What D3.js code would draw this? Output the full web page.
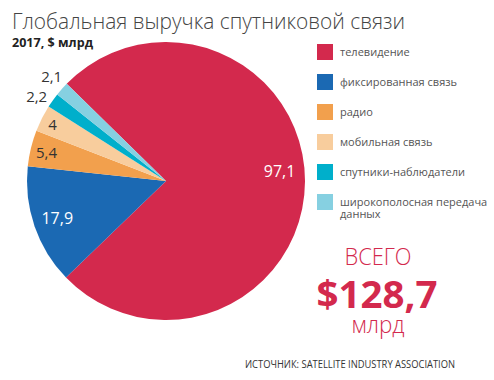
<!DOCTYPE html>
<html><head><meta charset="utf-8">
<script src="https://cdn.jsdelivr.net/npm/d3@7"></script>
<style>body{margin:0;background:#fff}svg{display:block}</style>
</head><body>
<script>
const categories = ["телевидение","фиксированная связь","радио","мобильная связь","спутники-наблюдатели","широкополосная передача данных"];
const values = [97.1, 17.9, 5.4, 4, 2.2, 2.1];
const valueLabels = ["97,1","17,9","5,4","4","2,2","2,1"];
const colors = ["#d3294d","#1b69b3","#f2a04d","#f8cd9d","#00afcb","#86d0e1"];

const W = 494, H = 380;
const svg = d3.select("body").append("svg").attr("width", W).attr("height", H);
const font = "'Open Sans', 'Noto Sans', sans-serif";

// Title
svg.append("text").attr("x", 12).attr("y", 29).text("Глобальная выручка спутниковой связи")
  .attr("font-family", font).attr("font-weight", 300).attr("font-size", 22).attr("fill", "#444")
  .attr("textLength", 393).attr("lengthAdjust", "spacingAndGlyphs");
svg.append("text").attr("x", 12).attr("y", 47).text("2017, $ млрд")
  .attr("font-family", font).attr("font-weight", 700).attr("font-size", 13).attr("fill", "#222")
  .attr("textLength", 81).attr("lengthAdjust", "spacingAndGlyphs");

// Pie
const cx = 166, cy = 181, R = 139;
const start = -45.6 * Math.PI / 180;
const pie = d3.pie().sort(null).startAngle(start).endAngle(start + 2 * Math.PI);
const arcs = pie(values);
const arc = d3.arc().innerRadius(0).outerRadius(R);
const g = svg.append("g").attr("transform", `translate(${cx},${cy})`);
g.selectAll("path").data(arcs).enter().append("path")
  .attr("d", arc).attr("fill", (d, i) => colors[i]);

// Labels
const labelRadius = [114, 115, 123, 127, 155, 155];
const labelShift = [-5 * Math.PI / 180, 0, 0, 0, -2 * Math.PI / 180, 1 * Math.PI / 180];
arcs.forEach((d, i) => {
  const a = (d.startAngle + d.endAngle) / 2 + labelShift[i];
  const r = labelRadius[i];
  g.append("text").text(valueLabels[i])
    .attr("x", Math.sin(a) * r).attr("y", -Math.cos(a) * r)
    .attr("text-anchor", "middle").attr("dominant-baseline", "central")
    .attr("font-family", font).attr("font-size", i < 2 ? 16 : 15)
    .attr("fill", i < 2 ? "#fff" : "#333");
});

// Legend
const lg = svg.append("g").attr("transform", "translate(317,44)");
categories.forEach((c, i) => {
  const row = lg.append("g").attr("transform", `translate(0,${i * 30})`);
  row.append("rect").attr("width", 16).attr("height", 16).attr("fill", colors[i]);
  const words = i === 5 ? ["широкополосная передача", "данных"] : [c];
  words.forEach((w, j) => {
    row.append("text").attr("x", 23).attr("y", 11.5 + j * 12).text(w)
      .attr("font-family", font).attr("font-size", 11).attr("fill", "#555");
  });
});

// Total
const tg = svg.append("g").attr("fill", "#d3294d").attr("text-anchor", "middle").attr("font-family", font);
tg.append("text").attr("x", 378).attr("y", 265).text("ВСЕГО").attr("font-weight", 300).attr("font-size", 24)
  .attr("textLength", 67).attr("lengthAdjust", "spacingAndGlyphs");
tg.append("text").attr("x", 377).attr("y", 308).text("$128,7").attr("font-weight", 700).attr("font-size", 38)
  .attr("textLength", 121).attr("lengthAdjust", "spacingAndGlyphs");
tg.append("text").attr("x", 378).attr("y", 333).text("млрд").attr("font-weight", 300).attr("font-size", 24)
  .attr("textLength", 53).attr("lengthAdjust", "spacingAndGlyphs");

// Source
svg.append("text").attr("x", 245).attr("y", 368).text("ИСТОЧНИК: SATELLITE INDUSTRY ASSOCIATION")
  .attr("font-family", font).attr("font-size", 10).attr("fill", "#333")
  .attr("textLength", 210).attr("lengthAdjust", "spacingAndGlyphs");
</script>
</body></html>
